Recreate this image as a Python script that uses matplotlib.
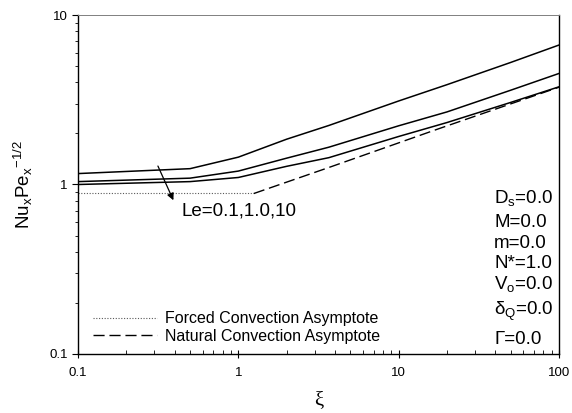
import matplotlib
matplotlib.use('Agg')
from matplotlib import pyplot as plt

plt.rcParams['font.family'] = ['Liberation Sans', 'DejaVu Sans']
plt.rcParams['mathtext.fontset'] = 'custom'
plt.rcParams['mathtext.rm'] = 'Liberation Sans'
plt.rcParams['mathtext.it'] = 'Liberation Sans:italic'

# curves for Le = 0.1, 1.0, 10
xi = [0.1, 0.5, 1, 2, 3.67, 10, 20, 50, 100]
nu_le01 = [1.16, 1.24, 1.45, 1.85, 2.23, 3.11, 3.88, 5.25, 6.65]
nu_le1 = [1.04, 1.09, 1.20, 1.43, 1.66, 2.22, 2.68, 3.60, 4.52]
nu_le10 = [1.00, 1.04, 1.10, 1.28, 1.44, 1.92, 2.32, 3.05, 3.77]

# asymptotes
xi_forced = [0.1, 1.25]
nu_forced = [0.886, 0.886]
xi_natural = [1.25, 3.67, 17.7, 100]
nu_natural = [0.885, 1.26, 2.13, 3.75]

params = [r'D$_{\mathrm{s}}$=0.0', 'M=0.0', 'm=0.0', 'N*=1.0',
          r'V$_{\mathrm{o}}$=0.0', r'δ$_{\mathrm{Q}}$=0.0', 'Γ=0.0']
param_y = [198, 223, 244, 263, 284, 311, 340]

fig = plt.figure(figsize=(5.72, 4.13), dpi=100)
ax = fig.add_axes([78/572, 1-354/413, 481/572, 339/413])

for nu in (nu_le01, nu_le1, nu_le10):
    ax.plot(xi, nu, color='black', lw=1.1)
ax.plot(xi_forced, nu_forced, color='0.35', lw=0.8, linestyle=(0, (1, 1.5)),
        label='Forced Convection Asymptote')
ax.plot(xi_natural, nu_natural, color='black', lw=1.0, dashes=(8, 3.5),
        label='Natural Convection Asymptote')

ax.set_xscale('log')
ax.set_yscale('log')
ax.set_xlim(0.1, 100)
ax.set_ylim(0.1, 10)
ax.set_xticks([0.1, 1, 10, 100])
ax.set_xticklabels(['0.1', '1', '10', '100'])
ax.set_yticks([0.1, 1, 10])
ax.set_yticklabels(['0.1', '1', '10'])
ax.tick_params(axis='x', which='major', direction='inout', length=6, labelsize=9.5, pad=6)
ax.tick_params(axis='x', which='minor', direction='in', length=3)
ax.tick_params(axis='y', which='major', direction='out', length=4, labelsize=9.5)
ax.tick_params(axis='y', which='minor', direction='out', length=2)
ax.spines['top'].set_color('0.5')
ax.spines['top'].set_linewidth(0.7)
for s in ('left', 'bottom', 'right'):
    ax.spines[s].set_linewidth(1.0)

ax.set_xlabel('ξ', fontsize=15, family=['Liberation Serif', 'DejaVu Serif'], labelpad=9)
ax.set_ylabel(r'Nu$_{\mathrm{x}}$Pe$_{\mathrm{x}}$$^{\mathrm{-1/2}}$', fontsize=13.5, labelpad=10)

ax.annotate('', xy=(0.40, 0.78), xytext=(0.31, 1.33),
            arrowprops=dict(arrowstyle='-|>', color='black', lw=0.9,
                            mutation_scale=10))
ax.text(0.443, 0.70, 'Le=0.1,1.0,10', fontsize=13.5, va='center', ha='left')

for label, y in zip(params, param_y):
    ax.text((494-78)/481, (354-y)/339, label, transform=ax.transAxes,
            fontsize=13.5, va='center', ha='left')

ax.legend(loc='lower left', bbox_to_anchor=(0.031, 0.03), frameon=False,
          fontsize=11.5, handlelength=4.0, handletextpad=0.5,
          labelspacing=0.15, borderpad=0, borderaxespad=0)

fig.savefig('out.png', dpi=100)
